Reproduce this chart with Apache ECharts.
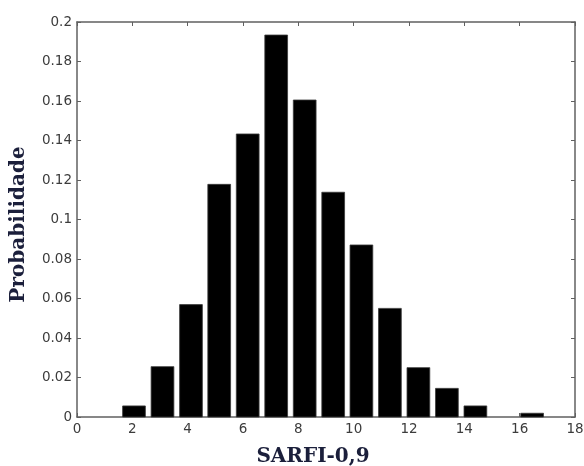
<!DOCTYPE html>
<html>
<head>
<meta charset="utf-8">
<script src="https://cdn.jsdelivr.net/npm/echarts@6/dist/echarts.min.js"></script>
<style>
  html, body { margin: 0; padding: 0; background: #fff; }
  #chart { width: 584px; height: 466px; }
</style>
</head>
<body>
<div id="chart"></div>
<script>
// centros das classes do histograma (SARFI-0,9) e probabilidade de cada classe
var binCenters = [2.06, 3.09, 4.12, 5.14, 6.17, 7.20, 8.23, 9.26, 10.28, 11.31, 12.34, 13.37, 14.40, 15.42, 16.45];
var probs = [0.0056, 0.0255, 0.0569, 0.1178, 0.1433, 0.1934, 0.1605, 0.1138, 0.0871, 0.055, 0.025, 0.0145, 0.0056, 0, 0.0019];
var binWidth = 1.028;
var xTitle = 'SARFI-0,9';
var yTitle = 'Probabilidade';

var histData = [];
for (let i = 0; i < binCenters.length; i++) {
    histData.push([binCenters[i], probs[i]]);
}

var myChart = echarts.init(document.getElementById('chart'));

var axisLine = { show: true, onZero: false, lineStyle: { color: '#606060', width: 1.5 } };
var tickIn = { show: true, inside: true, length: 4, lineStyle: { color: '#606060', width: 1 } };
var labelStyle = { color: '#3c3c3c', fontSize: 13.5, fontFamily: 'DejaVu Sans' };
var nameStyle = { color: '#1b1f3b', fontSize: 20, fontWeight: 'bold', fontFamily: 'DejaVu Serif' };

var option = {
    animation: false,
    backgroundColor: '#fff',
    grid: { left: 77, right: 9, top: 22, bottom: 49, containLabel: false, outerBoundsMode: 'none' },
    xAxis: [
        {
            type: 'value', min: 0, max: 18, interval: 2,
            position: 'bottom',
            axisLine: axisLine, axisTick: tickIn,
            axisLabel: Object.assign({ margin: 5 }, labelStyle),
            splitLine: { show: false },
            name: xTitle, nameLocation: 'middle', nameGap: 30,
            nameTextStyle: Object.assign({ padding: [0, 26, 0, 0] }, nameStyle)
        },
        {
            type: 'value', min: 0, max: 18, interval: 2,
            position: 'top',
            axisLine: axisLine, axisTick: tickIn,
            axisLabel: { show: false },
            splitLine: { show: false }
        }
    ],
    yAxis: [
        {
            type: 'value', min: 0, max: 0.2, interval: 0.02,
            position: 'left',
            axisLine: axisLine, axisTick: tickIn,
            axisLabel: Object.assign({ margin: 5 }, labelStyle),
            splitLine: { show: false },
            name: yTitle, nameLocation: 'middle', nameGap: 48,
            nameTextStyle: Object.assign({ padding: [0, 10, 0, 0] }, nameStyle)
        },
        {
            type: 'value', min: 0, max: 0.2, interval: 0.02,
            position: 'right',
            axisLine: axisLine, axisTick: tickIn,
            axisLabel: { show: false },
            splitLine: { show: false }
        }
    ],
    series: [
        {
            type: 'custom',
            xAxisIndex: 0, yAxisIndex: 0,
            data: histData,
            renderItem: function (params, api) {
                var x = api.value(0), y = api.value(1);
                if (y <= 0) return null;
                var p0 = api.coord([x - binWidth * 0.4, y]);
                var p1 = api.coord([x + binWidth * 0.4, 0]);
                return {
                    type: 'rect',
                    shape: { x: p0[0], y: p0[1], width: p1[0] - p0[0], height: p1[1] - p0[1] },
                    style: { fill: '#000', stroke: '#3a3a3a', lineWidth: 0.8 }
                };
            },
            z: 1
        }
    ]
};

myChart.setOption(option);
</script>
</body>
</html>
